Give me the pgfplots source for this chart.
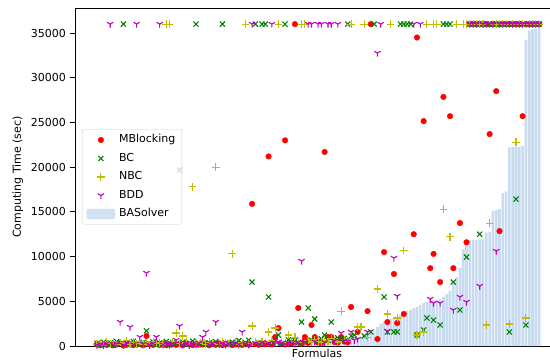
\documentclass[border=0pt]{standalone}
\usepackage{fontspec}
\setmainfont{DejaVu Sans}
\usepackage{pgfplots}
\pgfplotsset{compat=1.18}
\usetikzlibrary{plotmarks}

\definecolor{mbred}{RGB}{255,0,0}
\definecolor{bcgreen}{RGB}{0,128,0}
\definecolor{nbcyellow}{RGB}{191,191,0}
\definecolor{bddmag}{RGB}{191,0,191}
\definecolor{barblue}{RGB}{200,219,240}
\definecolor{legedge}{RGB}{204,204,204}

\begin{document}
\begin{tikzpicture}
\useasboundingbox (0pt,0pt) rectangle (550pt,360pt);
\begin{axis}[
  at={(75pt,14pt)}, anchor=south west,
  scale only axis, width=475pt, height=338pt,
  xmin=-6.67, xmax=137.3, ymin=0, ymax=37800,
  axis x line*=box, axis y line*=left,
  axis line style={line width=0.8pt, black},
  xtick=\empty,
  ytick={0,5000,10000,15000,20000,25000,30000,35000},
  scaled y ticks=false,
  tick align=outside, major tick length=5pt,
  tick style={line width=0.8pt, black},
  /pgf/number format/assume math mode=true,
  /pgf/number format/1000 sep={},
  tick label style={font=\fontsize{11}{13}\selectfont},
  yticklabel style={xshift=-0.5pt},
  ylabel={Computing Time (sec)},
  xlabel={Formulas},
  label style={font=\fontsize{11}{13}\selectfont},
  ylabel style={yshift=1pt},
  xlabel style={xshift=4.5pt, yshift=5pt},
  legend image code/.code={\draw[mark repeat=2,mark phase=2,#1,opacity=1] plot coordinates {(0pt,0pt) (14pt,0pt) (28pt,0pt)};},
  legend cell align=left,
  legend style={at={(axis description cs:0,0.5)}, anchor=west, xshift=7pt,
    draw=legedge, fill=white, fill opacity=0.8, text opacity=1, draw opacity=1,
    rounded corners=2pt, font=\fontsize{11}{13}\selectfont,
    row sep=4pt, inner xsep=4.5pt, inner ysep=3pt,
    /tikz/every odd column/.append style={column sep=2pt},
    nodes={inner sep=2pt, text height=8pt, text depth=2.5pt}},
]
% BASolver times, sorted ascending
\addplot[ybar, bar width=0.8, fill=barblue, draw=none, forget plot] coordinates {
(0,5) (1,8) (2,10) (3,12) (4,15) (5,18) (6,20) (7,22) (8,25) (9,28)
(10,30) (11,33) (12,36) (13,40) (14,43) (15,46) (16,50) (17,53) (18,56) (19,60)
(20,63) (21,66) (22,70) (23,74) (24,78) (25,82) (26,86) (27,90) (28,95) (29,100)
(30,105) (31,110) (32,115) (33,120) (34,126) (35,132) (36,138) (37,145) (38,152) (39,160)
(40,168) (41,176) (42,184) (43,192) (44,200) (45,210) (46,220) (47,230) (48,240) (49,250)
(50,260) (51,270) (52,280) (53,290) (54,300) (55,310) (56,320) (57,330) (58,345) (59,360)
(60,380) (61,400) (62,420) (63,440) (64,460) (65,480) (66,500) (67,520) (68,550) (69,580)
(70,610) (71,650) (72,690) (73,730) (74,780) (75,830) (76,880) (77,920) (78,960) (79,990)
(80,1020) (81,1100) (82,1250) (83,1450) (84,1750) (85,2150) (86,2500) (87,2700) (88,2900) (89,3000)
(90,3100) (91,3300) (92,3500) (93,3700) (94,3900) (95,4050) (96,4200) (97,4400) (98,4600) (99,4800)
(100,4900) (101,5000) (102,5100) (103,5200) (104,5300) (105,5500) (106,5800) (107,6200) (108,7000) (109,7700)
(110,8700) (111,10800) (112,11800) (113,11850) (114,11850) (115,11850) (116,11900) (117,11950) (118,12700) (119,12750)
(120,15100) (121,15200) (122,15300) (123,17100) (124,17300) (125,22200) (126,22250) (127,22300) (128,22300) (129,22350)
(130,34200) (131,35300) (132,35400) (133,35500) (134,35600)
};
% MBlocking
\addplot[only marks, mark=*, mark size=2.8pt, color=mbred] coordinates {
(0,150) (1,80) (2,200) (3,120) (4,250) (5,90) (6,180) (7,300) (8,60) (9,140)
(10,220) (11,100) (12,170) (13,260) (14,70) (15,1120) (16,190) (17,130) (18,280) (19,110)
(20,210) (21,90) (22,160) (23,240) (24,120) (25,200) (26,80) (27,300) (28,150) (29,100)
(30,230) (31,130) (32,180) (33,270) (34,90) (35,210) (36,140) (37,320) (38,110) (39,190)
(40,250) (41,100) (42,170) (43,280) (44,130) (45,220) (46,160) (47,15900) (48,240) (49,150)
(50,300) (51,200) (52,21200) (53,180) (54,1000) (55,2000) (56,260) (57,23000) (58,220) (59,310)
(60,36000) (61,4250) (62,280) (63,1000) (64,350) (65,2350) (66,1000) (67,400) (68,300) (69,21700)
(70,1000) (71,1000) (72,450) (73,380) (74,1000) (75,500) (76,420) (77,4360) (79,1570)
(82,3900) (83,36000) (85,780) (87,10500) (88,2680) (90,8050) (91,2570) (93,3580)
(96,12500) (97,34500) (99,25150) (101,8700) (102,10300) (104,7150) (105,27850) (107,25700) (108,8700)
(110,13750) (112,11600) (113,36000) (114,36000) (115,36000) (116,36000) (117,36000) (118,36000) (119,23700)
(120,36000) (121,28500) (122,12850) (123,36000) (124,36000) (125,36000) (126,36000) (127,36000) (128,36000) (129,25700)
(130,36000) (131,36000) (132,36000) (133,36000) (134,36000)
};
\addlegendentry{MBlocking}
% BC
\addplot[only marks, mark=x, mark size=3.6pt, color=bcgreen, mark options={line width=1.1pt}] coordinates {
(0,300) (1,150) (2,420) (3,200) (4,350) (5,100) (6,480) (7,250) (8,36000) (9,380)
(10,180) (11,520) (12,280) (13,140) (14,400) (15,1700) (16,220) (17,460) (18,160) (19,330)
(20,240) (21,500) (22,120) (23,370) (24,260) (25,19680) (26,440) (27,190) (28,310) (29,560)
(30,36000) (31,230) (32,410) (33,150) (34,350) (35,270) (36,490) (37,200) (38,36000) (39,340)
(40,170) (41,430) (42,290) (43,600) (44,210) (45,380) (46,650) (47,7150) (48,36000) (49,320)
(50,36000) (51,36000) (52,5480) (53,400) (54,550) (55,1230) (56,300) (57,36000) (58,700) (59,450)
(60,600) (61,380) (62,2680) (63,500) (64,4250) (65,650) (66,3020) (67,520) (68,800) (69,1230)
(70,600) (71,2680) (72,750) (73,900) (74,670) (75,850) (76,36000) (77,1120) (78,1230) (81,1120)
(83,1570) (84,36000) (87,5480) (88,1570) (90,1570) (91,1570) (92,36000) (93,36000) (94,36000) (95,36000)
(97,1230) (99,1790) (100,3130) (102,2900) (104,2350) (105,36000) (106,36000) (107,36000) (108,7150)
(110,4030) (112,9950) (113,36000) (114,36000) (115,36000) (116,12500) (117,36000) (118,36000) (119,36000)
(120,36000) (121,36000) (122,36000) (123,36000) (124,36000) (125,1570) (126,36000) (127,16430) (128,36000) (129,36000)
(130,2350) (131,36000) (132,36000) (133,36000) (134,36000)
};
\addlegendentry{BC}
% NBC
\addplot[only marks, mark=+, mark size=3.8pt, color=nbcyellow, mark options={line width=1.1pt}] coordinates {
(0,200) (1,350) (2,100) (3,450) (4,250) (5,500) (6,150) (7,380) (8,280) (9,600)
(10,180) (11,420) (12,300) (13,550) (14,220) (15,400) (16,130) (17,480) (18,260) (19,350)
(20,200) (21,36000) (22,36000) (23,520) (24,1450) (25,300) (26,1120) (27,420) (28,180) (29,17800)
(30,380) (31,250) (32,560) (33,150) (34,440) (35,320) (36,20000) (37,210) (38,500) (39,350)
(40,270) (41,10300) (42,460) (43,190) (44,400) (45,36000) (46,300) (47,2240) (48,520) (49,250)
(50,430) (51,350) (52,1570) (53,600) (54,2010) (55,36000) (56,480) (57,350) (58,1230) (59,550)
(60,1000) (61,400) (62,36000) (63,36000) (64,600) (65,450) (66,700) (67,550) (68,450) (69,650)
(70,500) (71,800) (72,600) (73,450) (74,3900) (75,700) (76,550) (77,36000) (79,2120)
(80,2120) (81,36000) (82,1000) (85,6370) (88,3580) (89,36000) (91,3130) (93,10700)
(97,1230) (99,1570) (100,36000) (102,36000) (103,36000) (105,15300) (107,12200) (109,36000)
(111,36000) (112,36000) (113,36000) (114,36000) (115,36000) (116,36000) (117,36000) (118,2350) (119,13750)
(120,36000) (121,36000) (122,36000) (123,36000) (124,36000) (125,2460) (126,36000) (127,22800) (128,36000) (129,36000)
(130,3130) (131,36000) (132,36000) (133,36000) (134,36000)
};
\addlegendentry{NBC}
% BDD
\addplot[only marks, mark=Mercedes star flipped, mark size=3.6pt, color=bddmag, mark options={line width=1.1pt}] coordinates {
(0,100) (1,200) (2,60) (3,300) (4,36000) (5,150) (6,250) (7,2680) (8,120) (9,350)
(10,2120) (11,180) (12,36000) (13,1000) (14,220) (15,8160) (16,90) (17,280) (18,1000) (19,36000)
(20,160) (21,320) (22,110) (23,240) (24,670) (25,2240) (26,140) (27,300) (28,80) (29,260)
(30,190) (31,350) (32,1000) (33,1570) (34,130) (35,280) (36,2680) (37,170) (38,320) (39,100)
(40,240) (41,190) (42,360) (43,150) (44,1570) (45,250) (46,130) (47,36000) (48,300) (49,200)
(50,400) (51,250) (52,350) (53,36000) (54,280) (55,450) (56,320) (57,200) (58,380) (59,300)
(60,250) (61,420) (62,9500) (63,450) (64,36000) (65,36000) (66,500) (67,36000) (68,36000) (69,400)
(70,36000) (71,36000) (72,550) (73,36000) (74,1450) (75,600) (76,500) (77,1570) (78,650) (79,780)
(82,1570) (85,32760) (86,36000) (88,1680) (90,9840) (91,5590) (96,36000) (98,36000)
(101,5250) (102,4800) (104,4800) (108,4030) (110,5480) (112,4920) (113,36000) (114,36000) (115,36000)
(116,6700) (117,36000) (118,36000) (119,36000) (120,36000) (121,10620) (122,36000) (123,36000) (124,36000)
(125,36000) (126,36000) (127,36000) (128,36000) (129,36000) (130,36000) (131,36000) (132,36000) (133,36000) (134,36000)
};
\addlegendentry{BDD}
\addlegendimage{legend image code/.code={\fill[barblue] (0pt,-5pt) rectangle (28pt,5pt);}}
\addlegendentry{BASolver}
\end{axis}
\end{tikzpicture}
\end{document}
